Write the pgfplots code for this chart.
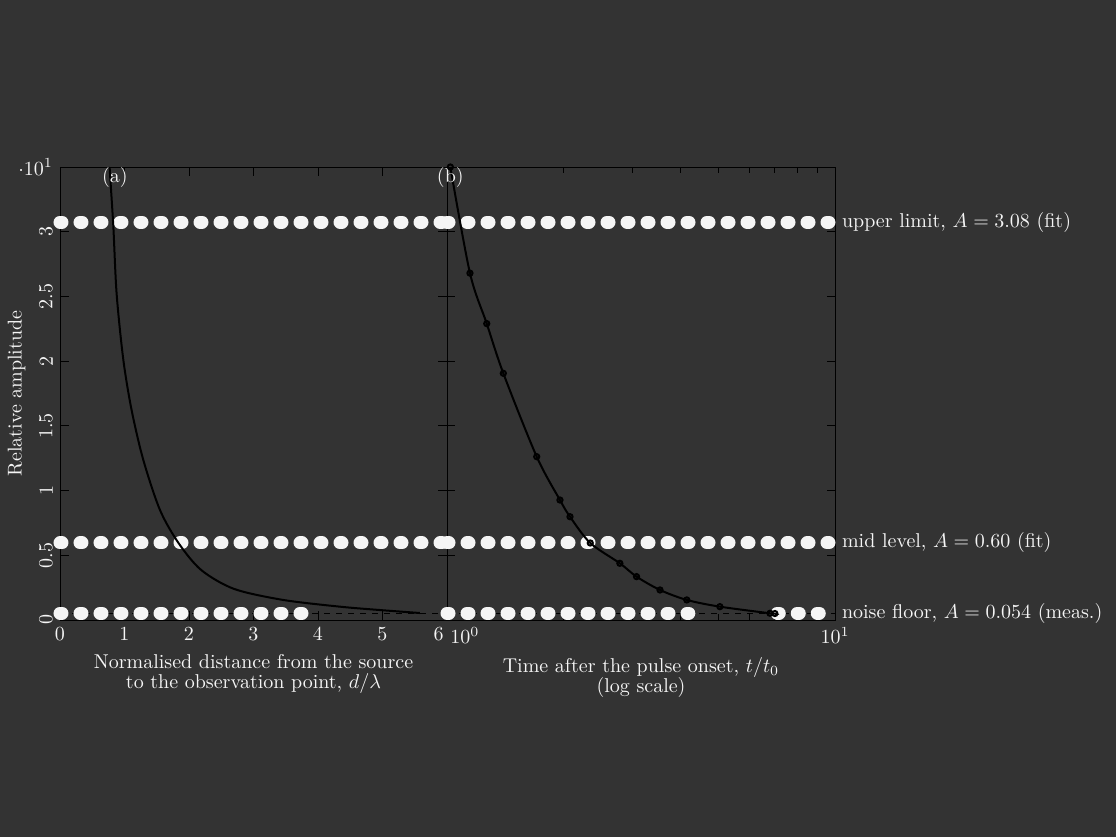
\documentclass[border=0pt]{standalone}
\usepackage{pgfplots}
\pgfplotsset{compat=1.18}
\definecolor{bg}{HTML}{333333}
\definecolor{fg}{HTML}{F5F5F5}

\pgfplotsset{
  panel/.style={
    scale only axis,
    width=193.5pt, height=226.5pt,
    anchor=south west,
    ymin=0, ymax=3.5,
    axis line style={black},
    every tick/.style={black},
    tick label style={text=fg, font=\normalsize},
    label style={text=fg},
    clip=false,
  },
  refline/.style={fg, line width=6.5pt, dash pattern=on 1pt off 9pt, line cap=round},
  thinref/.style={black, thin, dashed},
}

\begin{document}
\begin{tikzpicture}
\fill[bg] (0,0) rectangle (558pt,418.5pt);

% left panel, linear x
\begin{axis}[panel,
  at={(30pt,108.5pt)},
  xmin=0, xmax=6,
  xtick={0,1,...,6},
  xticklabels={0,1,2,3,4,5,\makebox[0pt][r]{6\,}},
  ytick={0,0.5,...,3.5},
  yticklabels={0,0.5,1,1.5,2,2.5,3,},
  yticklabel style={rotate=90, anchor=south},
  xlabel={Normalised distance from the source\\[-2pt] to the observation point, $d/\lambda$},
  xlabel style={align=center},
  ylabel={Relative amplitude},
]
\addplot[thinref] coordinates {(0,0.054) (6,0.054)};
\addplot[refline] coordinates {(0,3.075) (6,3.075)};
\addplot[refline] coordinates {(0,0.595) (6,0.595)};
\addplot[refline] coordinates {(0,0.054) (4.0,0.054)};
\addplot[black, line width=1pt, smooth] coordinates {
  (0.77,3.5) (0.775,3.45) (0.827,3.04) (0.878,2.52) (0.982,2.01)
  (1.111,1.62) (1.292,1.236) (1.55,0.85) (1.84,0.593) (2.19,0.386)
  (2.70,0.240) (3.46,0.155) (4.34,0.103) (4.96,0.077) (5.58,0.054)
};
\node[text=fg, anchor=east] at (rel axis cs:0,1) {$\cdot 10^{1}$};
\node[text=fg, anchor=center] at (axis cs:0.85,3.42) {(a)};
\end{axis}

% right panel, log x
\begin{axis}[panel,
  at={(223.5pt,108.5pt)},
  width=194pt,
  xmode=log, xmin=1, xmax=10,
  xtick={1,10},
  xticklabels={\makebox[0pt][l]{\,$10^{0}$},$10^{1}$},
  minor xtick={2,3,4,5,6,7,8,9},
  ytick={0,0.5,...,3.5},
  yticklabels={},
  xlabel={Time after the pulse onset, $t/t_0$\\[-2pt] (log scale)},
  xlabel style={align=center},
]
\addplot[thinref] coordinates {(1,0.054) (10,0.054)};
\addplot[refline] coordinates {(1,3.075) (10,3.075)};
\addplot[refline] coordinates {(1,0.595) (10,0.595)};
\addplot[refline] coordinates {(1,0.054) (4.2,0.054)};
\addplot[refline] coordinates {(7.1,0.054) (10,0.054)};
\addplot[black, line width=1pt, smooth, mark=o, mark size=1.3pt] coordinates {
  (1.02,3.5) (1.146,2.68) (1.266,2.29) (1.397,1.906) (1.703,1.262)
  (1.955,0.927) (2.075,0.798) (2.34,0.595) (2.79,0.438) (3.08,0.335)
  (3.54,0.232) (4.15,0.155) (5.05,0.103) (6.80,0.052) (7.0,0.05)
};
\node[text=fg, anchor=center] at (axis cs:1.02,3.42) {(b)};
\node[text=fg, anchor=west] at (axis cs:10,3.075) {upper limit, $A = 3.08$ (fit)};
\node[text=fg, anchor=west] at (axis cs:10,0.595) {mid level, $A = 0.60$ (fit)};
\node[text=fg, anchor=west] at (axis cs:10,0.054) {noise floor, $A = 0.054$ (meas.)};
\end{axis}
\end{tikzpicture}
\end{document}
